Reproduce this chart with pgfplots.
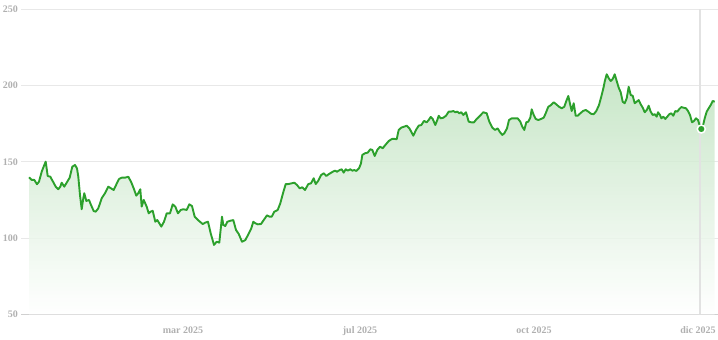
\documentclass[border=0pt]{standalone}
\usepackage{pgfplots}
\pgfplotsset{compat=1.18}
\usepackage{fontspec}
\setmainfont{Liberation Serif}
\definecolor{linegreen}{RGB}{44,160,44}
\definecolor{fillgreen}{RGB}{190,226,190}
\definecolor{gridgray}{RGB}{232,232,232}
\definecolor{labgray}{RGB}{176,176,176}
\definecolor{axgray}{RGB}{208,208,208}
\definecolor{crossgray}{RGB}{226,226,226}
\begin{document}
\begin{tikzpicture}[x=1pt,y=1pt]
\path[use as bounding box] (-21,-25.7) rectangle (697,314.3);
\begin{axis}[
  at={(0,0)}, anchor=origin,
  scale only axis, width=697pt, height=305pt,
  xmin=21, xmax=718, ymin=50, ymax=250,
  axis x line*=bottom, axis y line*=left,
  y axis line style={draw=none},
  x axis line style={draw=axgray, line width=1pt},
  major tick length=0pt,
  ymajorgrids, grid style={draw=gridgray, line width=0.9pt},
  ytick={50,100,150,200,250},
  yticklabels={50,100,150,200,250},
  yticklabel style={font=\fontsize{10}{12}\selectfont\bfseries, text=labgray, inner sep=0pt, anchor=east, xshift=-3pt},
  xtick={183,360,534,698},
  xticklabels={mar 2025,jul 2025,oct 2025,dic 2025},
  xticklabel style={font=\fontsize{10}{12}\selectfont\bfseries, text=labgray, inner sep=0pt, anchor=base, yshift=-19.7pt},
  clip=false,
]
\addplot[draw=none, top color=fillgreen, bottom color=white, fill opacity=0.85] coordinates {
(29,139.8)(31.7,138.1)(34.3,138.1)(37,135.3)(39,137.0)(41.7,143.5)(44.3,147.9)(45.7,150.1)(47.7,140.7)(50.3,140.2)(53,137.0)(55.7,133.7)(58.3,132.0)(60.3,133.7)(61.7,136.3)(64.3,133.7)(66.3,135.9)(69.7,139.6)(72.3,146.8)(75,147.9)(77,145.7)(78.3,140.2)(80,128.2)(81.7,118.9)(83.3,126.1)(84.3,129.4)(86.3,124.3)(89,125.0)(91,121.7)(93.7,117.7)(95.7,117.3)(98.3,119.5)(101.7,126.1)(105,129.4)(108.3,133.7)(111,132.6)(113.7,131.5)(115.7,134.3)(119,138.7)(121.7,139.6)(125,139.6)(128.3,140.2)(131,137.0)(133.7,132.6)(136.3,127.8)(138.3,129.4)(140.3,132.0)(141.7,120.6)(143.7,125.0)(146.7,120.6)(148.7,116.2)(150.7,117.3)(152.7,117.9)(155.3,110.7)(157.3,111.8)(159.3,109.7)(161.3,107.5)(164,110.7)(166.7,116.2)(170,116.2)(172.7,122.1)(175.3,120.6)(178,116.2)(180.7,118.4)(183.3,118.9)(186.7,118.4)(189.3,122.1)(192,121.0)(194.7,114.0)(198.7,111.4)(202.7,109.2)(205.3,110.1)(208,110.7)(210.7,103.1)(214,95.5)(216.7,97.6)(219.3,97.0)(222,114.0)(223.3,108.6)(225.3,107.9)(227.3,110.7)(230.7,111.4)(233.3,111.8)(236,105.3)(238.7,102.7)(242,97.6)(245.3,98.7)(248,102.0)(251.3,106.4)(253.3,110.7)(255.3,109.7)(257.7,109.0)(261,109.2)(263.7,111.8)(267,114.9)(269.7,114.0)(271.7,114.0)(274.3,117.3)(277.7,118.4)(280.3,122.8)(283,129.4)(285.7,135.4)(288.3,135.4)(291.7,135.9)(294.3,136.3)(297,134.8)(299.7,132.6)(302.3,133.3)(305,131.5)(308.3,135.4)(311,135.9)(313.7,139.2)(315.7,135.4)(318.3,137.6)(321,141.2)(323.7,142.5)(326.3,140.7)(329,142.0)(332.3,143.3)(335,144.2)(337,143.5)(339.7,144.6)(341.7,145.1)(343.7,142.9)(345.7,145.1)(347.7,144.2)(350.3,145.1)(352.3,144.2)(354.3,144.6)(356.3,144.0)(359,145.7)(361,149.0)(362.3,154.5)(365,155.6)(367.7,156.0)(370.3,158.2)(372.3,157.8)(374.7,153.8)(377.3,157.8)(380,159.9)(382.7,158.9)(385.3,161.0)(388.7,163.6)(392,165.0)(394.7,165.0)(396.7,164.8)(398.7,170.9)(401.3,172.4)(404,173.0)(406.7,173.7)(409.3,172.0)(411.3,169.7)(413.3,167.1)(416,170.9)(418.7,173.7)(421.3,174.1)(424,176.8)(426.7,175.9)(428.7,177.4)(430.7,179.4)(432.7,178.1)(435.3,174.1)(437.3,177.4)(438.7,180.2)(440.7,178.5)(443.3,178.9)(446,180.2)(448.7,182.9)(451.3,182.9)(453.3,183.3)(455.3,182.5)(457.3,182.9)(459.3,181.8)(461.3,182.5)(463.3,180.7)(466,182.5)(468.7,176.3)(471.3,175.9)(474,175.9)(476.7,178.1)(480,180.2)(483.3,182.5)(486.7,181.8)(489.3,176.3)(492.3,172.4)(495,170.9)(497.7,171.9)(499.7,169.7)(502.3,167.6)(504.3,168.7)(507,171.9)(509,177.4)(511.7,178.5)(515,178.5)(517.7,178.5)(520.3,176.3)(522.3,173.0)(524.3,170.9)(526.3,175.9)(528.3,176.3)(530.3,178.9)(531.7,184.4)(533.7,180.7)(535.7,178.1)(538.3,177.4)(541,178.1)(543.7,178.9)(545.7,181.8)(548.3,186.1)(551,187.2)(553.7,189.0)(556.3,187.7)(559,186.1)(561.7,185.1)(564.3,186.1)(566.3,189.9)(568.3,193.2)(570.3,187.2)(571.7,183.3)(573.7,188.4)(575.7,180.2)(577.7,180.2)(580.3,181.8)(583,183.3)(585.7,184.0)(588.3,182.9)(591,181.5)(593.7,181.2)(596.3,183.3)(599,187.2)(601.7,193.8)(603.7,199.2)(604.7,202.6)(606.7,207.4)(608.7,204.8)(610.7,203.0)(612.7,204.3)(614.7,207.4)(616.7,203.0)(618.7,198.6)(620.7,195.6)(622.7,189.4)(624.7,188.4)(626.7,191.6)(628.7,199.2)(630.7,193.8)(632.7,193.3)(634.7,188.4)(636.7,189.4)(638.7,190.5)(640.7,187.7)(642.7,185.5)(644.7,182.5)(646.7,183.9)(648.7,186.8)(650.7,182.9)(652.7,180.7)(654.7,181.2)(656.7,179.6)(658,182.5)(660,180.7)(661.3,178.5)(663.3,179.6)(665.3,178.1)(667.3,179.6)(669.3,181.2)(671.3,181.8)(673.3,180.2)(675.3,183.3)(677.3,182.9)(679.3,184.6)(681.3,185.9)(683.3,185.5)(686,185.1)(688,183.3)(690,180.7)(692,175.9)(694,176.8)(696,178.5)(698,177.4)(699.3,174.6)(701.3,171.5)(703.3,174.6)(704.7,178.5)(706.7,182.9)(708.7,185.1)(710.7,187.2)(712.7,189.9)(714.7,189.4)
} \closedcycle;
\addplot[draw=crossgray, line width=1.2pt] coordinates {(700,50) (700,250)};
\addplot[draw=linegreen, line width=1.9pt, line join=round] coordinates {
(29,139.8)(31.7,138.1)(34.3,138.1)(37,135.3)(39,137.0)(41.7,143.5)(44.3,147.9)(45.7,150.1)(47.7,140.7)(50.3,140.2)(53,137.0)(55.7,133.7)(58.3,132.0)(60.3,133.7)(61.7,136.3)(64.3,133.7)(66.3,135.9)(69.7,139.6)(72.3,146.8)(75,147.9)(77,145.7)(78.3,140.2)(80,128.2)(81.7,118.9)(83.3,126.1)(84.3,129.4)(86.3,124.3)(89,125.0)(91,121.7)(93.7,117.7)(95.7,117.3)(98.3,119.5)(101.7,126.1)(105,129.4)(108.3,133.7)(111,132.6)(113.7,131.5)(115.7,134.3)(119,138.7)(121.7,139.6)(125,139.6)(128.3,140.2)(131,137.0)(133.7,132.6)(136.3,127.8)(138.3,129.4)(140.3,132.0)(141.7,120.6)(143.7,125.0)(146.7,120.6)(148.7,116.2)(150.7,117.3)(152.7,117.9)(155.3,110.7)(157.3,111.8)(159.3,109.7)(161.3,107.5)(164,110.7)(166.7,116.2)(170,116.2)(172.7,122.1)(175.3,120.6)(178,116.2)(180.7,118.4)(183.3,118.9)(186.7,118.4)(189.3,122.1)(192,121.0)(194.7,114.0)(198.7,111.4)(202.7,109.2)(205.3,110.1)(208,110.7)(210.7,103.1)(214,95.5)(216.7,97.6)(219.3,97.0)(222,114.0)(223.3,108.6)(225.3,107.9)(227.3,110.7)(230.7,111.4)(233.3,111.8)(236,105.3)(238.7,102.7)(242,97.6)(245.3,98.7)(248,102.0)(251.3,106.4)(253.3,110.7)(255.3,109.7)(257.7,109.0)(261,109.2)(263.7,111.8)(267,114.9)(269.7,114.0)(271.7,114.0)(274.3,117.3)(277.7,118.4)(280.3,122.8)(283,129.4)(285.7,135.4)(288.3,135.4)(291.7,135.9)(294.3,136.3)(297,134.8)(299.7,132.6)(302.3,133.3)(305,131.5)(308.3,135.4)(311,135.9)(313.7,139.2)(315.7,135.4)(318.3,137.6)(321,141.2)(323.7,142.5)(326.3,140.7)(329,142.0)(332.3,143.3)(335,144.2)(337,143.5)(339.7,144.6)(341.7,145.1)(343.7,142.9)(345.7,145.1)(347.7,144.2)(350.3,145.1)(352.3,144.2)(354.3,144.6)(356.3,144.0)(359,145.7)(361,149.0)(362.3,154.5)(365,155.6)(367.7,156.0)(370.3,158.2)(372.3,157.8)(374.7,153.8)(377.3,157.8)(380,159.9)(382.7,158.9)(385.3,161.0)(388.7,163.6)(392,165.0)(394.7,165.0)(396.7,164.8)(398.7,170.9)(401.3,172.4)(404,173.0)(406.7,173.7)(409.3,172.0)(411.3,169.7)(413.3,167.1)(416,170.9)(418.7,173.7)(421.3,174.1)(424,176.8)(426.7,175.9)(428.7,177.4)(430.7,179.4)(432.7,178.1)(435.3,174.1)(437.3,177.4)(438.7,180.2)(440.7,178.5)(443.3,178.9)(446,180.2)(448.7,182.9)(451.3,182.9)(453.3,183.3)(455.3,182.5)(457.3,182.9)(459.3,181.8)(461.3,182.5)(463.3,180.7)(466,182.5)(468.7,176.3)(471.3,175.9)(474,175.9)(476.7,178.1)(480,180.2)(483.3,182.5)(486.7,181.8)(489.3,176.3)(492.3,172.4)(495,170.9)(497.7,171.9)(499.7,169.7)(502.3,167.6)(504.3,168.7)(507,171.9)(509,177.4)(511.7,178.5)(515,178.5)(517.7,178.5)(520.3,176.3)(522.3,173.0)(524.3,170.9)(526.3,175.9)(528.3,176.3)(530.3,178.9)(531.7,184.4)(533.7,180.7)(535.7,178.1)(538.3,177.4)(541,178.1)(543.7,178.9)(545.7,181.8)(548.3,186.1)(551,187.2)(553.7,189.0)(556.3,187.7)(559,186.1)(561.7,185.1)(564.3,186.1)(566.3,189.9)(568.3,193.2)(570.3,187.2)(571.7,183.3)(573.7,188.4)(575.7,180.2)(577.7,180.2)(580.3,181.8)(583,183.3)(585.7,184.0)(588.3,182.9)(591,181.5)(593.7,181.2)(596.3,183.3)(599,187.2)(601.7,193.8)(603.7,199.2)(604.7,202.6)(606.7,207.4)(608.7,204.8)(610.7,203.0)(612.7,204.3)(614.7,207.4)(616.7,203.0)(618.7,198.6)(620.7,195.6)(622.7,189.4)(624.7,188.4)(626.7,191.6)(628.7,199.2)(630.7,193.8)(632.7,193.3)(634.7,188.4)(636.7,189.4)(638.7,190.5)(640.7,187.7)(642.7,185.5)(644.7,182.5)(646.7,183.9)(648.7,186.8)(650.7,182.9)(652.7,180.7)(654.7,181.2)(656.7,179.6)(658,182.5)(660,180.7)(661.3,178.5)(663.3,179.6)(665.3,178.1)(667.3,179.6)(669.3,181.2)(671.3,181.8)(673.3,180.2)(675.3,183.3)(677.3,182.9)(679.3,184.6)(681.3,185.9)(683.3,185.5)(686,185.1)(688,183.3)(690,180.7)(692,175.9)(694,176.8)(696,178.5)(698,177.4)(699.3,174.6)(701.3,171.5)(703.3,174.6)(704.7,178.5)(706.7,182.9)(708.7,185.1)(710.7,187.2)(712.7,189.9)(714.7,189.4)
};
\addplot[only marks, mark=*, mark size=4pt, mark options={fill=linegreen, draw=white, line width=1.5pt}] coordinates {(701.3,171.5)};
\end{axis}
\end{tikzpicture}
\end{document}
